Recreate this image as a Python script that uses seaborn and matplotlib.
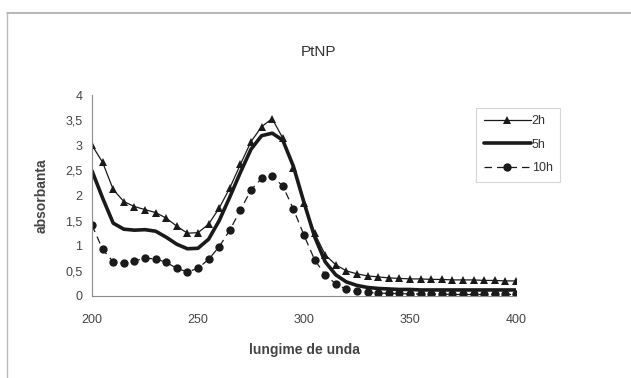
import matplotlib
matplotlib.use("Agg")
import matplotlib.pyplot as plt
import matplotlib.ticker as mticker
from matplotlib.lines import Line2D
import numpy as np
import pandas as pd
import seaborn as sns

# ── Données ───────────────────────────────────────────────────────────────────
wavelength = list(range(200, 401, 5))

abs_2h = [3.00, 2.66, 2.12, 1.88, 1.78, 1.72, 1.66, 1.55, 1.39, 1.25,
          1.26, 1.43, 1.75, 2.15, 2.62, 3.07, 3.37, 3.53, 3.14, 2.54,
          1.86, 1.25, 0.82, 0.62, 0.50, 0.44, 0.40, 0.38, 0.36, 0.35,
          0.34, 0.34, 0.33, 0.33, 0.32, 0.32, 0.32, 0.31, 0.31, 0.30,
          0.30]
abs_5h = [2.49, 1.95, 1.45, 1.33, 1.31, 1.32, 1.29, 1.17, 1.03, 0.94,
          0.95, 1.13, 1.50, 1.97, 2.46, 2.92, 3.19, 3.24, 3.10, 2.58,
          1.86, 1.18, 0.68, 0.42, 0.28, 0.21, 0.17, 0.15, 0.14, 0.13,
          0.13, 0.12, 0.12, 0.12, 0.12, 0.12, 0.12, 0.12, 0.12, 0.12,
          0.12]
abs_10h = [1.41, 0.93, 0.68, 0.65, 0.70, 0.75, 0.74, 0.67, 0.55, 0.48,
           0.55, 0.73, 0.98, 1.31, 1.71, 2.11, 2.34, 2.38, 2.19, 1.73,
           1.21, 0.72, 0.42, 0.24, 0.13, 0.09, 0.07, 0.06, 0.05, 0.05,
           0.04, 0.04, 0.04, 0.04, 0.03, 0.03, 0.03, 0.03, 0.03, 0.03,
           0.03]

x_ticks = [200, 250, 300, 350, 400]
y_ticks = [0, 0.5, 1, 1.5, 2, 2.5, 3, 3.5, 4]

# ── Style ─────────────────────────────────────────────────────────────────────
sns.set_theme(style="white")
plt.rcParams.update({
    "figure.facecolor": "white",
    "axes.facecolor": "white",
    "font.family": ["Liberation Sans", "DejaVu Sans"],
})
DARK = "#1a1a1a"
AXIS = "#8c8c8c"
TEXT = "#444444"

fig = plt.figure(figsize=(6.31, 3.78), dpi=100)
ax = fig.add_axes([92 / 631, 1 - 296 / 378, 424 / 631, 201 / 378])

sns.lineplot(x=wavelength, y=abs_2h, ax=ax, color=DARK, linewidth=0.9,
             marker="^", markersize=5.5, markeredgewidth=0, label="2h")
sns.lineplot(x=wavelength, y=abs_5h, ax=ax, color=DARK, linewidth=2.6,
             label="5h")
sns.lineplot(x=wavelength, y=abs_10h, ax=ax, color=DARK, linewidth=0.9,
             linestyle=(0, (6, 4)), marker="o", markersize=6,
             markeredgewidth=0, label="10h")

ax.set_xlim(200, 400)
ax.set_ylim(0, 4)
ax.set_xticks(x_ticks)
ax.set_yticks(y_ticks)
ax.yaxis.set_major_formatter(
    mticker.FuncFormatter(lambda v, _: f"{v:g}".replace(".", ",")))

for side in ["top", "right"]:
    ax.spines[side].set_visible(False)
for side in ["left", "bottom"]:
    ax.spines[side].set_color(AXIS)
    ax.spines[side].set_linewidth(0.8)
ax.tick_params(axis="both", colors=AXIS, labelcolor=TEXT,
               labelsize=9, length=3, width=0.8, direction="out")
ax.tick_params(axis="x", pad=10)
ax.tick_params(axis="y", pad=4)

ax.set_xlabel("lungime de unda", fontsize=10, fontweight="bold",
              color=TEXT, labelpad=12)
ax.set_ylabel("absorbanta", fontsize=10, fontweight="bold",
              color=TEXT, labelpad=12)
fig.text(318 / 631, 1 - 52 / 378, "PtNP", ha="center", va="center",
         fontsize=11, color="#333333")

leg = ax.legend(loc="upper left", bbox_to_anchor=(476 / 631, 1 - 108 / 378),
                bbox_transform=fig.transFigure, frameon=True, fancybox=False,
                fontsize=9, handlelength=3.8, handletextpad=0.05,
                borderpad=0.6, labelspacing=0.9, borderaxespad=0)
leg.get_frame().set_edgecolor("#cccccc")
leg.get_frame().set_linewidth(0.8)
for t in leg.get_texts():
    t.set_color("#333333")

# bordure de la zone du graphique (haut et gauche visibles)
fig.add_artist(Line2D([7 / 631, 1], [1 - 13 / 378, 1 - 13 / 378],
                      transform=fig.transFigure, color="#aaaaaa", lw=1.2))
fig.add_artist(Line2D([7 / 631, 7 / 631], [0, 1 - 13 / 378],
                      transform=fig.transFigure, color="#bbbbbb", lw=1.0))

fig.savefig("out.png", dpi=100)
